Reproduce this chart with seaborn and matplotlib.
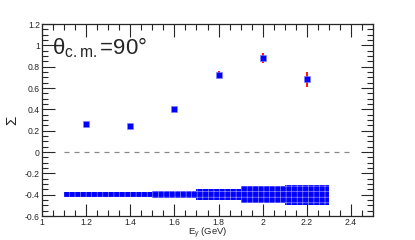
import numpy as np
import pandas as pd
import matplotlib
matplotlib.use('Agg')
import matplotlib.pyplot as plt
from matplotlib.ticker import MultipleLocator, FormatStrFormatter
import seaborn as sns

# beam asymmetry at theta_cm = 90 deg
energy = [1.2, 1.4, 1.6, 1.8, 2.0, 2.2]
sigma = [0.26, 0.24, 0.40, 0.725, 0.88, 0.68]
stat_err = [0.02, 0.012, 0.022, 0.032, 0.045, 0.07]

# systematic band (bins of 0.2 GeV, drawn around -0.4)
sys_lo = [1.1, 1.3, 1.5, 1.7, 1.9, 2.1]
sys_err = [0.022, 0.022, 0.03, 0.049, 0.077, 0.094]
sys_base = -0.4

df = pd.DataFrame({'E': energy, 'Sigma': sigma, 'err': stat_err})

sns.set_style('ticks')
plt.rcParams['font.family'] = ['Liberation Sans', 'DejaVu Sans']
plt.rcParams['mathtext.fontset'] = 'custom'
plt.rcParams['mathtext.rm'] = 'Liberation Sans'
plt.rcParams['mathtext.it'] = 'Liberation Sans:italic'
plt.rcParams['hatch.linewidth'] = 0.5

fig = plt.figure(figsize=(4.15, 2.4), dpi=100)
ax = fig.add_axes([42 / 415, 24 / 240, 331 / 415, 192 / 240])

# systematic band
for lo, e in zip(sys_lo, sys_err):
    ax.bar(lo, 2 * e, width=0.2, bottom=sys_base - e, align='edge',
           facecolor='#0000ff', edgecolor='#8c8cff', linewidth=0, hatch='+++', zorder=2)

# zero line
ax.plot([1.1, 2.4], [0, 0], ls=(0, (4, 4)), color='#888888', lw=0.9, zorder=1)

# stat errors + points
ax.errorbar(df['E'], df['Sigma'], yerr=df['err'], fmt='none', ecolor='red', elinewidth=1.3, zorder=3)
sns.scatterplot(data=df, x='E', y='Sigma', ax=ax, marker='s', s=14, color='#0000ff',
                edgecolor='#7f7fff', linewidth=0.4, zorder=4)

ax.set_xlim(1.0, 2.5)
ax.set_ylim(-0.6, 1.2)
ax.xaxis.set_major_locator(MultipleLocator(0.2))
ax.xaxis.set_minor_locator(MultipleLocator(0.05))
ax.yaxis.set_major_locator(MultipleLocator(0.2))
ax.yaxis.set_minor_locator(MultipleLocator(0.05))
ax.xaxis.set_major_formatter(FormatStrFormatter('%g'))
ax.yaxis.set_major_formatter(FormatStrFormatter('%g'))
ax.tick_params(which='both', direction='in', top=True, right=True, labelsize=6.2, width=0.8, pad=1.5)
ax.tick_params(which='major', length=9)
ax.tick_params(which='minor', length=4.5)
for s in ax.spines.values():
    s.set_linewidth(0.9)

ax.set_xlabel(r'E$_\gamma$ (GeV)', fontsize=6.8, labelpad=-0.5)
ax.set_ylabel('Σ', fontsize=11, labelpad=4)
ax.text(0.03, 0.84, r'$\mathrm{θ_{c.m.}}$=90°', transform=ax.transAxes, fontsize=16)

fig.savefig('out.png', dpi=100)
